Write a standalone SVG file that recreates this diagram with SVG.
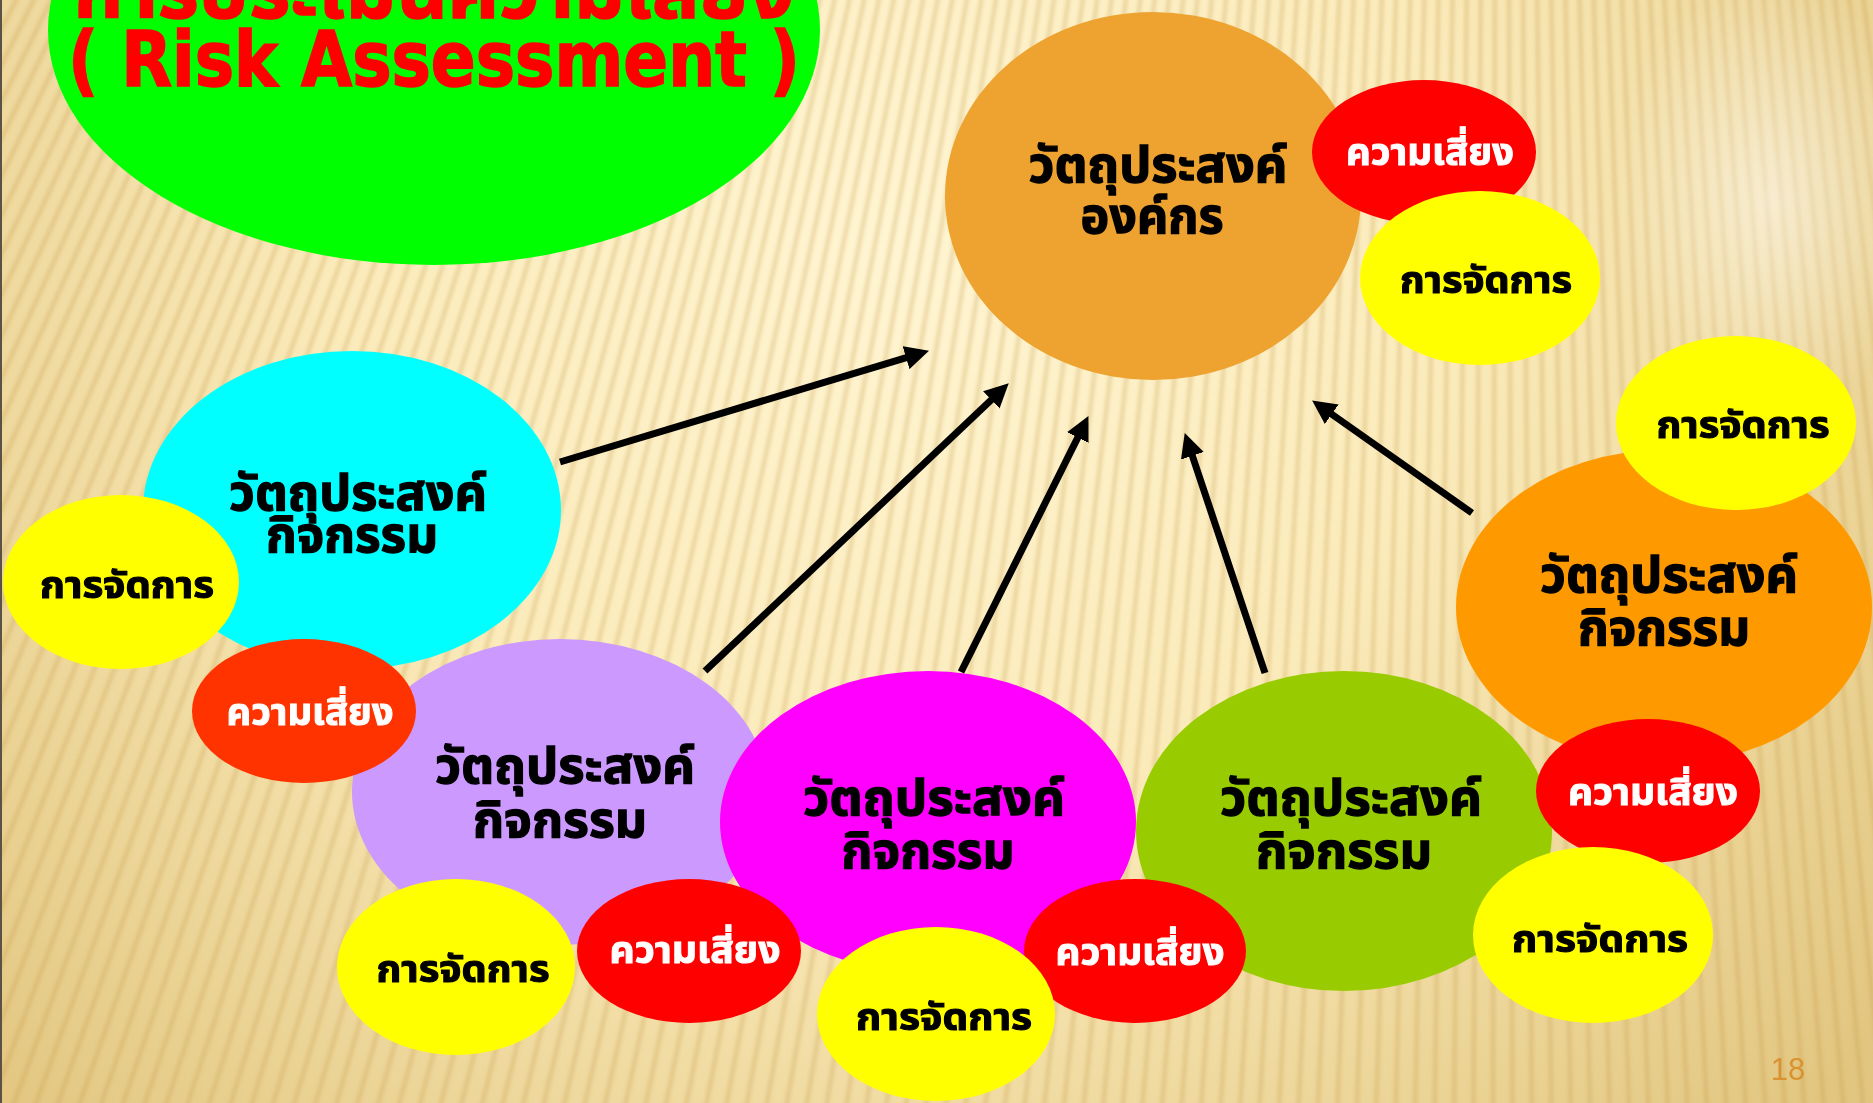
<svg xmlns="http://www.w3.org/2000/svg" width="1873" height="1103" viewBox="0 0 1873 1103">
  <style>
    .th { font-family: "Noto Sans Thai", "Noto Sans Thai UI", "Noto Sans", "DejaVu Sans", sans-serif; font-weight: bold; text-anchor: middle; }
    .big { font-size: 50px; fill: #000; stroke: #000; stroke-width: 1.3; }
    .sm { font-size: 37px; }
    .ink { fill: #000; stroke: #000; stroke-width: 1.1; }
    .paper { fill: #fff; stroke: #fff; stroke-width: 1; }
    .yellow { fill: #FFFF00; }
    .red { fill: #FF0000; }
    .arrow { stroke: #000; stroke-width: 7; fill: none; marker-end: url(#ah); }
    .stripe { stroke: #C59C45; stroke-width: 5; stroke-opacity: 0.26; }
  </style>
  <defs>
    <radialGradient id="bg" gradientUnits="userSpaceOnUse" cx="900" cy="250" r="1250">
      <stop offset="0" stop-color="#FFF5D2"/>
      <stop offset="0.45" stop-color="#FBEBBB"/>
      <stop offset="1" stop-color="#E2C680"/>
    </radialGradient>
    <radialGradient id="glow" cx="0.5" cy="0.5" r="0.5">
      <stop offset="0" stop-color="#FFFFFF" stop-opacity="0.5"/>
      <stop offset="1" stop-color="#FFFFFF" stop-opacity="0"/>
    </radialGradient>
    <filter id="soft" x="-0.1" y="-0.1" width="1.2" height="1.2">
      <feGaussianBlur stdDeviation="1.5"/>
    </filter>
    <!-- fan of stripes radiating from a point far above the page -->
    <line id="s0" class="stripe" x1="1500" y1="-200" x2="1500" y2="1800"/>
    <g id="s1"><use href="#s0"/><use href="#s0" transform="rotate(0.275 1500 -2941)"/></g>
    <g id="s2"><use href="#s1"/><use href="#s1" transform="rotate(0.55 1500 -2941)"/></g>
    <g id="s3"><use href="#s2"/><use href="#s2" transform="rotate(1.1 1500 -2941)"/></g>
    <g id="s4"><use href="#s3"/><use href="#s3" transform="rotate(2.2 1500 -2941)"/></g>
    <g id="s5"><use href="#s4"/><use href="#s4" transform="rotate(4.4 1500 -2941)"/></g>
    <g id="s6"><use href="#s5"/><use href="#s5" transform="rotate(8.8 1500 -2941)"/></g>
    <g id="s7"><use href="#s6"/><use href="#s6" transform="rotate(17.6 1500 -2941)"/></g>
    <marker id="ah" markerUnits="userSpaceOnUse" markerWidth="24" markerHeight="24" refX="3" refY="12" orient="auto">
      <path d="M0,0 L24,12 L0,24 Z" fill="#000"/>
    </marker>
  </defs>

  <!-- background -->
  <rect width="1873" height="1103" fill="url(#bg)"/>
  <g filter="url(#soft)" transform="rotate(-7.6 1500 -2941)"><use href="#s7"/></g>
  <ellipse cx="1770" cy="200" rx="160" ry="230" fill="url(#glow)"/>
  <rect x="0" y="0" width="2" height="1103" fill="#5A5244"/>

  <!-- title -->
  <g id="title">
    <ellipse cx="434" cy="30" rx="386" ry="235" fill="#00FF00"/>
    <text x="434" y="18" class="th" font-size="78" fill="#FF0000" stroke="#FF0000" stroke-width="1.5" textLength="720" lengthAdjust="spacingAndGlyphs">การประเมินความเสี่ยง</text>
    <text x="434" y="86" font-family="'DejaVu Sans Condensed', 'DejaVu Sans', sans-serif" font-weight="bold" font-size="76" fill="#FF0000" stroke="#FF0000" stroke-width="1.5" text-anchor="middle" textLength="732" lengthAdjust="spacingAndGlyphs">( Risk Assessment )</text>
  </g>

  <!-- organisation objective -->
  <g id="org">
    <ellipse cx="1153" cy="196" rx="208" ry="184" fill="#EEA330"/>
    <text class="th big" x="1158" y="182" textLength="259" lengthAdjust="spacingAndGlyphs">วัตถุประสงค์</text>
    <text class="th big" x="1152" y="233" textLength="143" lengthAdjust="spacingAndGlyphs">องค์กร</text>
  </g>
  <g id="org-risk">
    <ellipse cx="1424" cy="152" rx="112" ry="72" class="red"/>
    <text class="th sm paper" x="1430" y="165" textLength="168" lengthAdjust="spacingAndGlyphs">ความเสี่ยง</text>
  </g>
  <g id="org-mgmt">
    <ellipse cx="1480" cy="278" rx="120" ry="87" class="yellow"/>
    <text class="th sm ink" x="1486" y="293" textLength="172" lengthAdjust="spacingAndGlyphs">การจัดการ</text>
  </g>

  <!-- activity objectives -->
  <g id="act-cyan">
    <ellipse cx="352" cy="510" rx="209" ry="159" fill="#00FFFF"/>
    <text class="th big" x="358" y="510" textLength="258" lengthAdjust="spacingAndGlyphs">วัตถุประสงค์</text>
    <text class="th big" x="352" y="552" textLength="172" lengthAdjust="spacingAndGlyphs">กิจกรรม</text>
  </g>
  <g id="act-lavender">
    <ellipse cx="560" cy="792" rx="208" ry="153" fill="#CC99FF"/>
    <text class="th big" x="565" y="783" textLength="260" lengthAdjust="spacingAndGlyphs">วัตถุประสงค์</text>
    <text class="th big" x="560" y="837" textLength="174" lengthAdjust="spacingAndGlyphs">กิจกรรม</text>
  </g>
  <g id="act-green">
    <ellipse cx="1344" cy="831" rx="208" ry="160" fill="#99CC00"/>
    <text class="th big" x="1351" y="815" textLength="262" lengthAdjust="spacingAndGlyphs">วัตถุประสงค์</text>
    <text class="th big" x="1344" y="868" textLength="176" lengthAdjust="spacingAndGlyphs">กิจกรรม</text>
  </g>
  <g id="act-magenta">
    <ellipse cx="928" cy="822" rx="208" ry="151" fill="#FF00FF"/>
    <text class="th big" x="934" y="815" textLength="262" lengthAdjust="spacingAndGlyphs">วัตถุประสงค์</text>
    <text class="th big" x="928" y="868" textLength="173" lengthAdjust="spacingAndGlyphs">กิจกรรม</text>
  </g>
  <g id="act-orange">
    <ellipse cx="1664" cy="607" rx="208" ry="157" fill="#FF9900"/>
    <text class="th big" x="1669" y="592" textLength="258" lengthAdjust="spacingAndGlyphs">วัตถุประสงค์</text>
    <text class="th big" x="1664" y="645" textLength="172" lengthAdjust="spacingAndGlyphs">กิจกรรม</text>
  </g>

  <!-- risk / management bubbles -->
  <g id="cyan-mgmt">
    <ellipse cx="121" cy="582" rx="118" ry="87" class="yellow"/>
    <text class="th sm ink" x="127" y="598" textLength="174" lengthAdjust="spacingAndGlyphs">การจัดการ</text>
  </g>
  <g id="cyan-risk">
    <ellipse cx="304" cy="711" rx="112" ry="72" fill="#FF3300"/>
    <text class="th sm paper" x="310" y="725" textLength="167" lengthAdjust="spacingAndGlyphs">ความเสี่ยง</text>
  </g>
  <g id="lavender-mgmt">
    <ellipse cx="456" cy="967" rx="119" ry="88" class="yellow"/>
    <text class="th sm ink" x="463" y="982" textLength="173" lengthAdjust="spacingAndGlyphs">การจัดการ</text>
  </g>
  <g id="lavender-risk">
    <ellipse cx="689" cy="951" rx="112" ry="72" class="red"/>
    <text class="th sm paper" x="695" y="963" textLength="171" lengthAdjust="spacingAndGlyphs">ความเสี่ยง</text>
  </g>
  <g id="magenta-risk">
    <ellipse cx="1135" cy="951" rx="111" ry="72" class="red"/>
    <text class="th sm paper" x="1140" y="965" textLength="169" lengthAdjust="spacingAndGlyphs">ความเสี่ยง</text>
  </g>
  <g id="magenta-mgmt">
    <ellipse cx="936" cy="1014" rx="119" ry="87" class="yellow"/>
    <text class="th sm ink" x="944" y="1030" textLength="176" lengthAdjust="spacingAndGlyphs">การจัดการ</text>
  </g>
  <g id="green-risk">
    <ellipse cx="1648" cy="791" rx="112" ry="72" class="red"/>
    <text class="th sm paper" x="1653" y="805" textLength="170" lengthAdjust="spacingAndGlyphs">ความเสี่ยง</text>
  </g>
  <g id="green-mgmt">
    <ellipse cx="1593" cy="935" rx="120" ry="88" class="yellow"/>
    <text class="th sm ink" x="1600" y="952" textLength="176" lengthAdjust="spacingAndGlyphs">การจัดการ</text>
  </g>
  <g id="orange-mgmt">
    <ellipse cx="1736" cy="423" rx="120" ry="87" class="yellow"/>
    <text class="th sm ink" x="1743" y="438" textLength="173" lengthAdjust="spacingAndGlyphs">การจัดการ</text>
  </g>

  <!-- arrows from each activity objective to the organisation objective -->
  <g id="connectors">
    <line class="arrow" x1="560" y1="462" x2="908.9" y2="356.8"/>
    <line class="arrow" x1="705" y1="671" x2="993.5" y2="397.8"/>
    <line class="arrow" x1="961" y1="672" x2="1079.1" y2="434.9"/>
    <line class="arrow" x1="1265" y1="673" x2="1191.4" y2="453"/>
    <line class="arrow" x1="1472" y1="513" x2="1329.3" y2="412.5"/>
  </g>

  <!-- slide number -->
  <text x="1788" y="1080" font-family="'Liberation Sans', Arial, sans-serif" font-size="31" fill="#DA9231" text-anchor="middle">18</text>
</svg>
